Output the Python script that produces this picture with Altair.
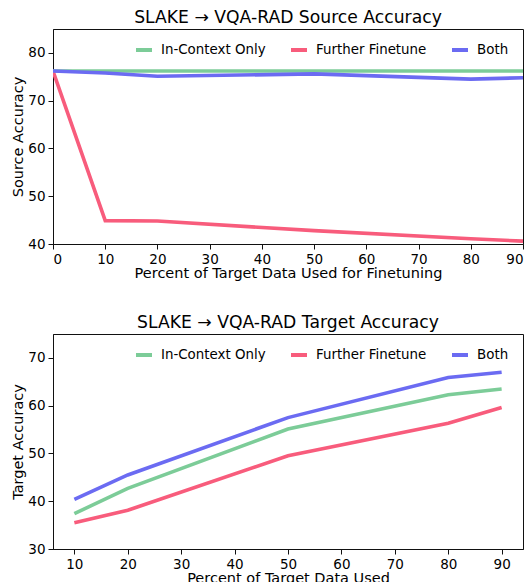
import altair as alt
import pandas as pd

series = ["In-Context Only", "Further Finetune", "Both"]
colors = ["#7ccc98", "#f85c7c", "#6b6bf2"]

src_x = [0, 10, 20, 50, 80, 90]
src_incontext = [76.2, 76.2, 76.2, 76.2, 76.2, 76.2]
src_finetune = [76.2, 44.9, 44.8, 42.8, 41.1, 40.6]
src_both = [76.2, 75.8, 75.1, 75.6, 74.5, 74.8]

tgt_x = [10, 20, 50, 80, 90]
tgt_incontext = [37.4, 42.7, 55.1, 62.3, 63.5]
tgt_finetune = [35.5, 38.1, 49.5, 56.3, 59.6]
tgt_both = [40.4, 45.5, 57.5, 65.9, 67.0]


def make_df(xs, a, b, c):
    rows = []
    for name, vals in zip(series, [a, b, c]):
        for x, v in zip(xs, vals):
            rows.append({"x": x, "y": v, "series": name})
    return pd.DataFrame(rows)


src_df = make_df(src_x, src_incontext, src_finetune, src_both)
tgt_df = make_df(tgt_x, tgt_incontext, tgt_finetune, tgt_both)

FONT = "DejaVu Sans"

legend = alt.Legend(
    title=None,
    orient="none",
    legendX=81,
    legendY=11,
    direction="horizontal",
    columns=3,
    symbolType="stroke",
    symbolSize=256,
    symbolStrokeWidth=4,
    labelFontSize=13.4,
    labelFont=FONT,
    labelColor="black",
    labelOffset=7,
    columnPadding=17,
)

color_scale = alt.Scale(domain=series, range=colors)


def panel(df, title, xtitle, ytitle, xdomain, ydomain, xticks, yticks):
    return (
        alt.Chart(df, title=alt.Title(title, fontSize=17.2, font=FONT, fontWeight="normal", color="black", offset=3))
        .mark_line(strokeWidth=3.6, clip=True)
        .encode(
            x=alt.X("x:Q", title=xtitle, scale=alt.Scale(domain=xdomain, nice=False, zero=False),
                    axis=alt.Axis(values=xticks, format="d")),
            y=alt.Y("y:Q", title=ytitle, scale=alt.Scale(domain=ydomain, nice=False, zero=False),
                    axis=alt.Axis(values=yticks, format="d")),
            color=alt.Color("series:N", scale=color_scale, legend=legend, sort=series),
            order=alt.Order("x:Q"),
        )
        .properties(width=470, height=215)
    )


top = panel(src_df, "SLAKE \u2192 VQA-RAD Source Accuracy", "Percent of Target Data Used for Finetuning",
            "Source Accuracy", [0, 90], [40, 85], list(range(0, 100, 10)), [40, 50, 60, 70, 80])
bottom = panel(tgt_df, "SLAKE \u2192 VQA-RAD Target Accuracy", "Percent of Target Data Used",
               "Target Accuracy", [6, 94], [30, 75], list(range(10, 100, 10)), [30, 40, 50, 60, 70])

chart = (
    alt.vconcat(top, bottom, spacing=32)
    .resolve_scale(color="independent")
    .properties(padding={"left": 2, "top": 0, "right": 0, "bottom": 0})
    .configure_view(stroke="#111111", strokeWidth=1)
    .configure_axis(
        grid=False,
        domainColor="#111111",
        tickColor="#111111",
        tickSize=5,
        labelFontSize=13.5,
        labelFont=FONT,
        labelColor="black",
        titleFontSize=14.5,
        titleFont=FONT,
        titleFontWeight="normal",
        titleColor="black",
        labelPadding=3,
    )
    .configure_axisX(titlePadding=1)
    .configure_axisY(titlePadding=2)
)

chart.save("out.html", embed_options={"renderer": "svg", "actions": False})
